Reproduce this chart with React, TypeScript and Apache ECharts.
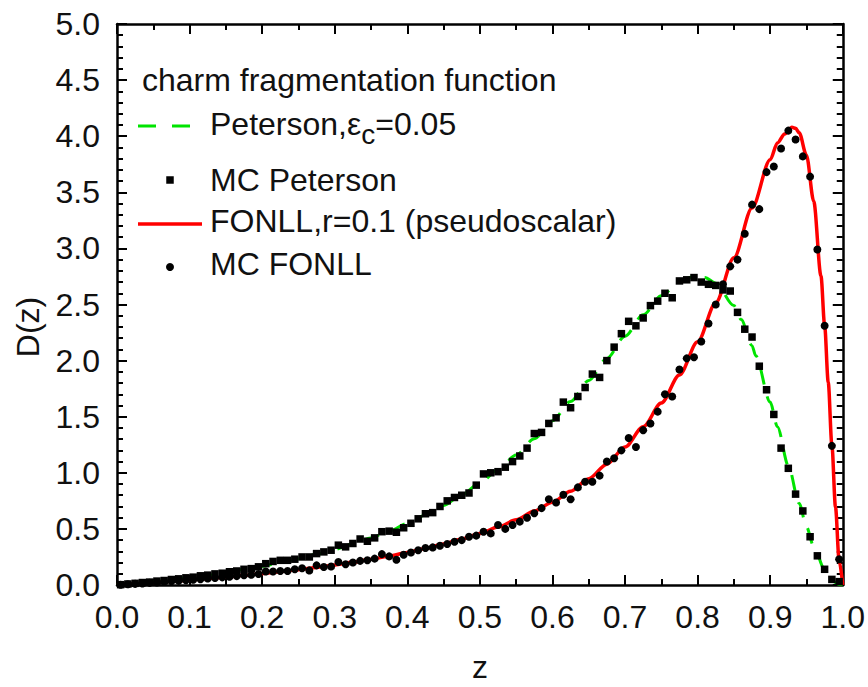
import React, { useEffect, useRef } from "react";
import * as echarts from "echarts";

const FONT = '"Liberation Sans", Arial, Helvetica, sans-serif';

// Peterson curve (eps_c = 0.05)
const PET_CURVE_Z = [0, 0.025, 0.05, 0.075, 0.1, 0.125, 0.15, 0.175, 0.2, 0.225, 0.25, 0.275, 0.3, 0.325, 0.35, 0.375, 0.4, 0.425, 0.45, 0.475, 0.5, 0.525, 0.55, 0.575, 0.6, 0.625, 0.65, 0.675, 0.7, 0.725, 0.75, 0.775, 0.79, 0.8, 0.81, 0.825, 0.85, 0.86, 0.875, 0.88, 0.9, 0.91, 0.925, 0.94, 0.95, 0.96, 0.975, 0.98, 0.99, 0.995, 1.0];
const PET_CURVE_D = [0, 0.014, 0.03, 0.048, 0.067, 0.088, 0.112, 0.138, 0.167, 0.1985, 0.234, 0.273, 0.317, 0.366, 0.42, 0.481, 0.548, 0.624, 0.709, 0.803, 0.909, 1.027, 1.158, 1.303, 1.463, 1.636, 1.823, 2.019, 2.218, 2.409, 2.578, 2.701, 2.742, 2.75, 2.741, 2.69, 2.49, 2.366, 2.133, 2.044, 1.63, 1.411, 1.063, 0.727, 0.52, 0.343, 0.1375, 0.088, 0.022, 0.0055, 0];

// FONLL curve (r = 0.1, pseudoscalar)
const FONLL_CURVE_Z = [0, 0.025, 0.05, 0.075, 0.1, 0.125, 0.15, 0.175, 0.2, 0.225, 0.25, 0.275, 0.3, 0.325, 0.35, 0.375, 0.4, 0.425, 0.45, 0.475, 0.5, 0.525, 0.55, 0.575, 0.6, 0.625, 0.65, 0.675, 0.7, 0.725, 0.75, 0.775, 0.8, 0.825, 0.85, 0.875, 0.9, 0.91, 0.92, 0.93, 0.935, 0.94, 0.95, 0.96, 0.97, 0.975, 0.98, 0.985, 0.99, 0.995, 1.0];
const FONLL_CURVE_D = [0, 0.0102, 0.021, 0.0324, 0.0445, 0.0574, 0.0712, 0.0859, 0.1017, 0.119, 0.137, 0.157, 0.179, 0.203, 0.229, 0.258, 0.29, 0.326, 0.3655, 0.41, 0.46, 0.5165, 0.581, 0.659, 0.738, 0.835, 0.947, 1.077, 1.23, 1.41, 1.621, 1.872, 2.168, 2.516, 2.916, 3.36, 3.79, 3.94, 4.02, 4.08, 4.07, 4.03, 3.83, 3.42, 2.754, 2.316, 1.806, 1.248, 0.693, 0.2185, 0];

// Monte Carlo bin centres
const MC_Z = [
  0.005, 0.015, 0.025, 0.035, 0.045, 0.055, 0.065, 0.075, 0.085, 0.095,
  0.105, 0.115, 0.125, 0.135, 0.145, 0.155, 0.165, 0.175, 0.185, 0.195,
  0.205, 0.215, 0.225, 0.235, 0.245, 0.255, 0.265, 0.275, 0.285, 0.295,
  0.305, 0.315, 0.325, 0.335, 0.345, 0.355, 0.365, 0.375, 0.385, 0.395,
  0.405, 0.415, 0.425, 0.435, 0.445, 0.455, 0.465, 0.475, 0.485, 0.495,
  0.505, 0.515, 0.525, 0.535, 0.545, 0.555, 0.565, 0.575, 0.585, 0.595,
  0.605, 0.615, 0.625, 0.635, 0.645, 0.655, 0.665, 0.675, 0.685, 0.695,
  0.705, 0.715, 0.725, 0.735, 0.745, 0.755, 0.765, 0.775, 0.785, 0.795,
  0.805, 0.815, 0.825, 0.835, 0.845, 0.855, 0.865, 0.875, 0.885, 0.895,
  0.905, 0.915, 0.925, 0.935, 0.945, 0.955, 0.965, 0.975, 0.985, 0.995,
];

const MC_PETERSON = [
  0.003, 0.009, 0.015, 0.022, 0.026, 0.035, 0.04, 0.049, 0.055, 0.064,
  0.07, 0.082, 0.088, 0.099, 0.105, 0.118, 0.125, 0.14, 0.146, 0.162,
  0.19, 0.21, 0.22, 0.22, 0.23, 0.25, 0.25, 0.28, 0.295, 0.31,
  0.355, 0.34, 0.37, 0.41, 0.39, 0.42, 0.475, 0.48, 0.47, 0.51,
  0.55, 0.59, 0.635, 0.645, 0.7, 0.75, 0.78, 0.8, 0.82, 0.89,
  0.99, 1.0, 1.01, 1.05, 1.1, 1.15, 1.22, 1.35, 1.36, 1.44,
  1.49, 1.63, 1.58, 1.68, 1.76, 1.88, 1.85, 2.0, 2.12, 2.24,
  2.35, 2.31, 2.38, 2.49, 2.53, 2.6, 2.56, 2.71, 2.72, 2.74,
  2.7, 2.68, 2.67, 2.63, 2.62, 2.43, 2.28, 2.21, 1.95, 1.74,
  1.52, 1.22, 1.04, 0.81, 0.66, 0.43, 0.26, 0.14, 0.05, 0.03,
];

const MC_FONLL = [
  0.002, 0.006, 0.01, 0.014, 0.019, 0.023, 0.028, 0.033, 0.037, 0.042,
  0.047, 0.052, 0.058, 0.062, 0.068, 0.074, 0.079, 0.087, 0.092, 0.098,
  0.12, 0.12, 0.125, 0.125, 0.14, 0.15, 0.13, 0.175, 0.16, 0.165,
  0.205, 0.185, 0.2, 0.215, 0.22, 0.235, 0.275, 0.255, 0.225, 0.27,
  0.29, 0.31, 0.33, 0.335, 0.35, 0.365, 0.385, 0.4, 0.43, 0.44,
  0.475, 0.46, 0.535, 0.5, 0.535, 0.565, 0.6, 0.64, 0.685, 0.765,
  0.735, 0.805, 0.765, 0.87, 0.92, 0.92, 0.975, 1.1, 1.13, 1.2,
  1.31, 1.23, 1.38, 1.44, 1.545, 1.7, 1.68, 1.92, 2.02, 2.03,
  2.17, 2.33, 2.5, 2.68, 2.84, 2.9, 3.13, 3.39, 3.35, 3.68,
  3.73, 3.89, 4.05, 3.97, 3.82, 3.64, 2.99, 2.31, 1.24, 0.23,
];

const LEGEND_TITLE = "charm fragmentation function";
const LEGEND_PET = ["Peterson,ε", "c", "=0.05"];
const LEGEND_MCPET = "MC Peterson";
const LEGEND_FONLL = "FONLL,r=0.1 (pseudoscalar)";
const LEGEND_MCFONLL = "MC FONLL";

const GREEN = "#00e400";
const RED = "#ff0000";
const INK = "#000000";
const TEXT = "#111111";

function measure(text: string, size: number): number {
  const c = document.createElement("canvas").getContext("2d");
  if (!c) return text.length * size * 0.5;
  c.font = `${size}px ${FONT}`;
  return c.measureText(text).width;
}

function makeAxis(kind: "x" | "y", position: string, labels: boolean): any {
  const isX = kind === "x";
  return {
    type: "value",
    position,
    min: 0,
    max: isX ? 1 : 5,
    interval: isX ? 0.1 : 0.5,
    axisLine: { show: true, onZero: false, lineStyle: { color: INK, width: 2.5 } },
    axisTick: { show: true, inside: true, length: 10, lineStyle: { color: INK, width: 2 } },
    minorTick: { show: true, splitNumber: isX ? 2 : 5, length: 6, lineStyle: { color: INK, width: 2 } },
    splitLine: { show: false },
    minorSplitLine: { show: false },
    axisLabel: {
      show: labels,
      fontSize: 32,
      fontFamily: FONT,
      color: TEXT,
      margin: isX ? 16 : 17,
      showMinLabel: true,
      showMaxLabel: true,
      formatter: (v: number) => v.toFixed(1),
    },
  };
}

export default function App() {
  const ref = useRef<HTMLDivElement>(null);

  useEffect(() => {
    if (!ref.current) return;
    const chart = echarts.init(ref.current, null, { renderer: "svg" });

    const pX = 210;
    const pY = 124;
    const w1 = measure(LEGEND_PET[0], 32);
    const w2 = measure(LEGEND_PET[1], 28);

    const txt = (text: string, x: number, y: number, extra: any = {}) => ({
      type: "text",
      x,
      y,
      z: 100,
      style: {
        text,
        fontSize: 32,
        fontFamily: FONT,
        fill: TEXT,
        textAlign: "left",
        textVerticalAlign: "middle",
        ...extra,
      },
    });

    const yTitle: any = txt("D(z)", 28, 327, { textAlign: "center" });
    yTitle.rotation = Math.PI / 2;

    const option: any = {
      animation: false,
      backgroundColor: "#ffffff",
      grid: { left: 117, right: 24, top: 24, bottom: 102, containLabel: false },
      xAxis: [makeAxis("x", "bottom", true), makeAxis("x", "top", false)],
      yAxis: [makeAxis("y", "left", true), makeAxis("y", "right", false)],
      series: [
        {
          type: "line",
          xAxisIndex: 0,
          yAxisIndex: 0,
          data: PET_CURVE_Z.map((z, i) => [z, PET_CURVE_D[i]]),
          showSymbol: false,
          smooth: 0.3,
          smoothMonotone: "x",
          lineStyle: { color: GREEN, width: 3, type: [16, 12] },
          z: 2,
        },
        {
          type: "line",
          xAxisIndex: 0,
          yAxisIndex: 0,
          data: FONLL_CURVE_Z.map((z, i) => [z, FONLL_CURVE_D[i]]),
          showSymbol: false,
          smooth: 0.3,
          smoothMonotone: "x",
          lineStyle: { color: RED, width: 3.5 },
          z: 2,
        },
        {
          type: "scatter",
          xAxisIndex: 0,
          yAxisIndex: 0,
          data: MC_Z.map((z, i) => [z, MC_PETERSON[i]]),
          symbol: "rect",
          symbolSize: 7.5,
          itemStyle: { color: INK, opacity: 1 },
          z: 3,
        },
        {
          type: "scatter",
          xAxisIndex: 0,
          yAxisIndex: 0,
          data: MC_Z.map((z, i) => [z, MC_FONLL[i]]),
          symbol: "circle",
          symbolSize: 8,
          itemStyle: { color: INK, opacity: 1 },
          z: 3,
        },
      ],
      graphic: [
        txt(LEGEND_TITLE, 142, 80),
        {
          type: "line",
          z: 100,
          shape: { x1: 138, y1: 126, x2: 192, y2: 126 },
          style: { stroke: GREEN, lineWidth: 3, lineDash: [18, 16] },
        },
        txt(LEGEND_PET[0], pX, pY),
        txt(LEGEND_PET[1], pX + w1, pY + 10, { fontSize: 28 }),
        txt(LEGEND_PET[2], pX + w1 + w2, pY),
        {
          type: "rect",
          z: 100,
          shape: { x: 166.25, y: 176.25, width: 7.5, height: 7.5 },
          style: { fill: INK },
        },
        txt(LEGEND_MCPET, 210, 180),
        {
          type: "line",
          z: 100,
          shape: { x1: 138, y1: 224, x2: 202, y2: 224 },
          style: { stroke: RED, lineWidth: 3.5 },
        },
        txt(LEGEND_FONLL, 210, 221),
        {
          type: "circle",
          z: 100,
          shape: { cx: 170, cy: 267, r: 4 },
          style: { fill: INK },
        },
        txt(LEGEND_MCFONLL, 210, 264),
        yTitle,
        txt("z", 480, 667, { textAlign: "center" }),
      ],
    };

    chart.setOption(option);
    return () => chart.dispose();
  }, []);

  return (
    <div
      ref={ref}
      style={{ position: "fixed", left: 0, top: 0, width: 868, height: 687, background: "#fff" }}
    />
  );
}
